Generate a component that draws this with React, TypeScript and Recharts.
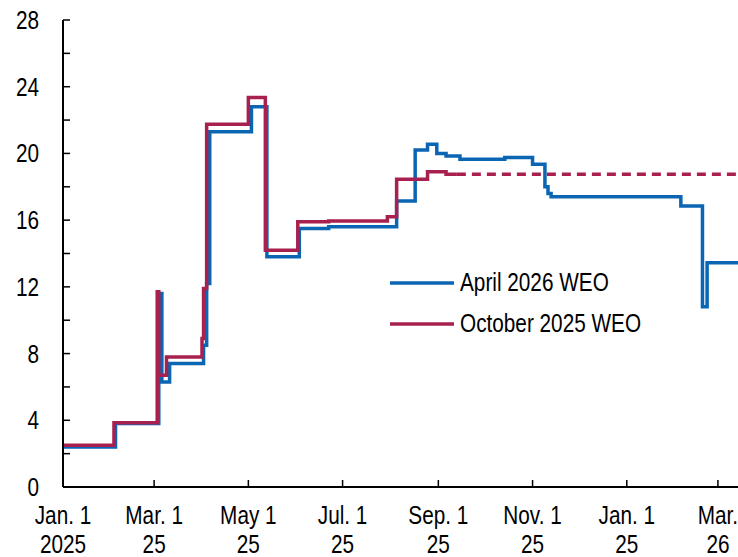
import { Legend, Line, LineChart, XAxis, YAxis } from "recharts";

// April 2026 WEO (step series, value holds until the next date)
const aprilDates = [
    "2025-01-01", "2025-02-04", "2025-03-04", "2025-03-06", "2025-03-11",
    "2025-04-02", "2025-04-04", "2025-04-06", "2025-05-03", "2025-05-13",
    "2025-06-03", "2025-06-22", "2025-08-05", "2025-08-17", "2025-08-25",
    "2025-08-31", "2025-09-06", "2025-09-15", "2025-10-14", "2025-11-01",
    "2025-11-09", "2025-11-11", "2025-11-13", "2026-02-05", "2026-02-19",
    "2026-02-22", "2026-03-14",
];
const aprilValues = [
    2.4, 3.8, 11.6, 6.3, 7.4,
    8.5, 12.2, 21.3, 22.8, 13.8,
    15.5, 15.6, 17.15, 20.2, 20.55,
    20.0, 19.85, 19.65, 19.75, 19.35,
    18.0, 17.6, 17.4, 16.85, 10.8,
    13.45, 13.45,
];

// October 2025 WEO, actual part
const octDates = [
    "2025-01-01", "2025-02-03", "2025-03-03", "2025-03-04", "2025-03-09",
    "2025-04-01", "2025-04-02", "2025-04-04", "2025-05-01", "2025-05-12",
    "2025-06-02", "2025-06-22", "2025-07-30", "2025-08-05", "2025-08-25",
    "2025-09-06", "2025-09-13",
];
const octValues = [
    2.5, 3.85, 11.7, 6.7, 7.8,
    8.9, 11.9, 21.75, 23.35, 14.2,
    15.9, 15.95, 16.2, 18.45, 18.9,
    18.75, 18.75,
];

// October 2025 WEO, assumption (dashed)
const octProjDates = ["2025-09-13", "2026-03-14"];
const octProjValues = [18.75, 18.75];

const tickDates = [
    "2025-01-01", "2025-03-01", "2025-05-01", "2025-07-01",
    "2025-09-01", "2025-11-01", "2026-01-01", "2026-03-01",
];
const tickTop = ["Jan. 1", "Mar. 1", "May 1", "Jul. 1", "Sep. 1", "Nov. 1", "Jan. 1", "Mar."];
const tickBottom = ["2025", "25", "25", "25", "25", "25", "25", "26"];

const yTicks = [0, 2, 4, 6, 8, 10, 12, 14, 16, 18, 20, 22, 24, 26, 28];

const BLUE = "#0a66b2";
const RED = "#a8204f";
const FONT = "'Liberation Sans', Arial, sans-serif";
const FONT_SIZE = 25;
const NARROW = 0.83; // squeeze to look like Arial Narrow

const START = Date.UTC(2025, 0, 1);
const dayOf = (d: string) => (Date.parse(d + "T00:00:00Z") - START) / 86400000;
const toSeries = (dates: string[], values: number[]) =>
    dates.map((d, i) => ({ day: dayOf(d), value: values[i] }));

const aprilData = toSeries(aprilDates, aprilValues);
const octData = toSeries(octDates, octValues);
const octProjData = toSeries(octProjDates, octProjValues);
const tickDays = tickDates.map(dayOf);
const endDay = dayOf("2026-03-14");

const NarrowText = ({ x, y, anchor, dy, children }: any) => (
    <text
        transform={`translate(${x},${y}) scale(${NARROW},1)`}
        dy={dy}
        textAnchor={anchor}
        fontFamily={FONT}
        fontSize={FONT_SIZE}
        fill="#000"
    >
        {children}
    </text>
);

const XTick = ({ x, y, payload }: any) => {
    const i = tickDays.indexOf(payload.value);
    return (
        <g>
            <line x1={x} x2={x} y1={y} y2={y - 7} stroke="#000" strokeWidth={1.5} />
            <NarrowText x={x} y={y + 37} anchor="middle">{tickTop[i]}</NarrowText>
            <NarrowText x={x} y={y + 66} anchor="middle">{tickBottom[i]}</NarrowText>
        </g>
    );
};

const YTick = ({ x, y, payload }: any) => (
    <g>
        <line x1={x} x2={x + 7} y1={y} y2={y} stroke="#000" strokeWidth={1.5} />
        {payload.value % 4 === 0 && (
            <NarrowText x={x - 24} y={y} dy="0.36em" anchor="end">{payload.value}</NarrowText>
        )}
    </g>
);

const legendItems = [
    { name: "April 2026 WEO", color: BLUE },
    { name: "October 2025 WEO", color: RED },
];

const renderLegend = () => (
    <div style={{ fontFamily: FONT, fontSize: FONT_SIZE, color: "#000" }}>
        {legendItems.map((item) => (
            <div key={item.name} style={{ display: "flex", alignItems: "center", height: 41 }}>
                <svg width={64} height={4}>
                    <line x1={0} x2={64} y1={2} y2={2} stroke={item.color} strokeWidth={3.5} />
                </svg>
                <span
                    style={{
                        marginLeft: 6,
                        whiteSpace: "nowrap",
                        display: "inline-block",
                        transform: `scaleX(${NARROW})`,
                        transformOrigin: "left center",
                    }}
                >
                    {item.name}
                </span>
            </div>
        ))}
    </div>
);

export default function App() {
    return (
        <div style={{ position: "absolute", left: 0, top: 0 }}>
            <LineChart width={738} height={557} margin={{ top: 20, right: 0, left: 0, bottom: 0 }}>
                <XAxis
                    type="number"
                    dataKey="day"
                    domain={[0, endDay]}
                    ticks={tickDays}
                    interval={0}
                    height={70}
                    tickSize={0}
                    tickMargin={0}
                    tickLine={false}
                    tick={<XTick />}
                    axisLine={{ stroke: "#000", strokeWidth: 2 }}
                    allowDataOverflow
                />
                <YAxis
                    type="number"
                    domain={[0, 28]}
                    ticks={yTicks}
                    interval={0}
                    width={63}
                    tickSize={0}
                    tickMargin={0}
                    tickLine={false}
                    tick={<YTick />}
                    axisLine={{ stroke: "#000", strokeWidth: 2 }}
                />
                <Legend
                    layout="vertical"
                    align="center"
                    verticalAlign="middle"
                    content={renderLegend}
                    wrapperStyle={{ position: "absolute", left: 390, top: 262, width: 330 }}
                />
                <Line data={aprilData} dataKey="value" name="April 2026 WEO" type="stepAfter"
                    stroke={BLUE} strokeWidth={3.5} dot={false} isAnimationActive={false} />
                <Line data={octData} dataKey="value" name="October 2025 WEO" type="stepAfter"
                    stroke={RED} strokeWidth={3.5} dot={false} isAnimationActive={false} />
                <Line data={octProjData} dataKey="value" name="October 2025 WEO projection" type="stepAfter"
                    stroke={RED} strokeWidth={3.5} strokeDasharray="9 6" dot={false} isAnimationActive={false}
                    legendType="none" />
            </LineChart>
        </div>
    );
}
